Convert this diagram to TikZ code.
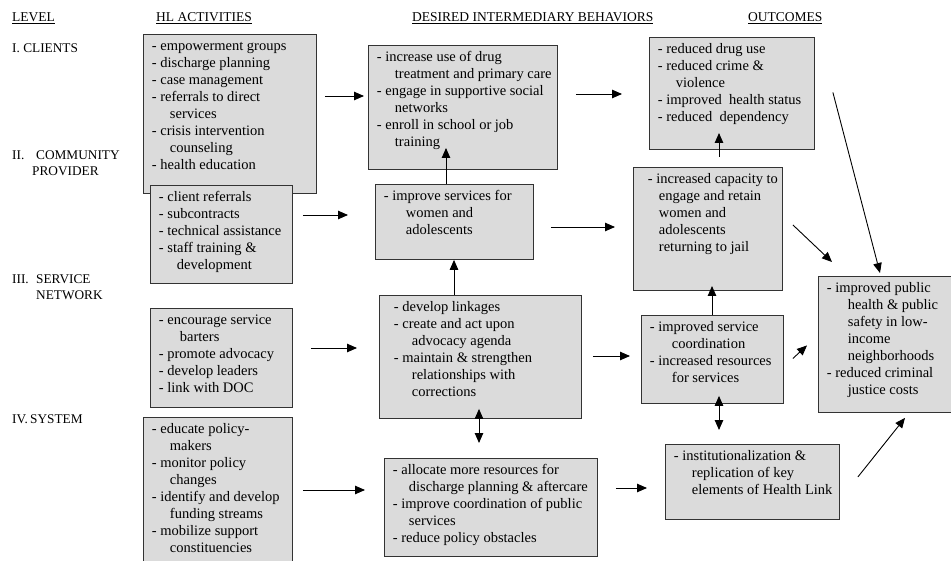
\documentclass[tikz,border=0pt]{standalone}
\usepackage{fontspec}
\setmainfont{Liberation Serif}
\usepackage{tikz}
\usetikzlibrary{arrows.meta,calc}

\newcommand{\hltext}[4][0pt]{\parbox[t][#3][t]{#2}{\hspace*{#1}\begin{tabular}[t]{@{}l@{}}#4\end{tabular}}}
\newcommand{\ind}{\hspace*{18pt}}

\tikzset{
  hlbox/.style={draw=black!80, fill=black!14, line width=0.9pt, anchor=north west,
    inner xsep=8.5pt, inner ysep=4pt, font=\fontsize{14.5}{17}\selectfont},
  head/.style={anchor=base west, inner sep=0pt, font=\fontsize{13.5}{16}\selectfont},
  lvl/.style={anchor=base west, inner sep=0pt, align=left, font=\fontsize{13.3}{16}\selectfont},
  arr/.style={-{Triangle[length=10pt,width=8.5pt]}, line width=0.9pt},
  darr/.style={{Triangle[length=10pt,width=8.5pt]}-{Triangle[length=10pt,width=8.5pt]}, line width=0.9pt}
}

\begin{document}
\begin{tikzpicture}
\begin{scope}[x=1pt, y=-1pt]
\useasboundingbox (0,0) rectangle (951,561);

% column heads
\node[head] (hlevel) at (12,22) {\underline{LEVEL}};
\node[head] (hact) at (156,22) {\underline{HL ACTIVITIES}};
\node[head] (hbeh) at (412,22) {\underline{DESIRED INTERMEDIARY BEHAVIORS}};
\node[head] (hout) at (748,22) {\underline{OUTCOMES}};

% levels
\node[lvl] (lcli) at (12,53) {I. CLIENTS};
\node[lvl] (lcom) at (12,176) {\makebox[24pt][l]{II.}COMMUNITY\\\hspace*{20pt}PROVIDER};
\node[lvl] (lser) at (12,300) {\makebox[24pt][l]{III.}SERVICE\\\hspace*{24pt}NETWORK};
\node[lvl] (lsys) at (12,423) {\makebox[18pt][l]{IV.}SYSTEM};

% HL activities
\node[hlbox] (act1) at (143,34) {\hltext{156pt}{151pt}{- empowerment groups\\ - discharge planning\\ - case management\\ - referrals to direct\\ \ind services\\ - crisis intervention\\ \ind counseling\\ - health education}};
\node[hlbox] (act2) at (150,185) {\hltext{125pt}{90pt}{- client referrals\\ - subcontracts\\ - technical assistance\\ - staff training \&\\ \ind development}};
\node[hlbox] (act3) at (150,308) {\hltext{125pt}{91pt}{- encourage service\\ \hspace*{21pt}barters\\ - promote advocacy\\ - develop leaders\\ - link with DOC}};
\node[hlbox] (act4) at (143,417) {\hltext{132pt}{150pt}{- educate policy-\\ \ind makers\\ - monitor policy\\ \ind changes\\ - identify and develop\\ \ind funding streams\\ - mobilize support\\ \ind constituencies}};

% intermediary behaviors
\node[hlbox] (beh1) at (368,45) {\hltext{172pt}{116pt}{- increase use of drug\\ \ind treatment and primary care\\ - engage in supportive social\\ \ind networks\\ - enroll in school or job\\ \ind training}};
\node[hlbox] (beh2) at (375,184) {\hltext{141pt}{67pt}{- improve services for\\ \hspace*{22pt}women and\\ \hspace*{22pt}adolescents}};
\node[hlbox] (beh3) at (379,295) {\hltext[6pt]{185pt}{115pt}{- develop linkages\\ - create and act upon\\ \ind advocacy agenda\\ - maintain \& strengthen\\ \ind relationships with\\ \ind corrections}};
\node[hlbox] (beh4) at (384,458) {\hltext{196pt}{90pt}{- allocate more resources for\\ \hspace*{16pt}discharge planning \& aftercare\\ - improve coordination of public\\ \hspace*{16pt}services\\ - reduce policy obstacles}};

% outcomes
\node[hlbox] (out1) at (649,37) {\hltext{148pt}{104pt}{- reduced drug use\\ - reduced crime \&\\ \ind violence\\ - improved\ \ health status\\ - reduced\ \ dependency}};
\node[hlbox] (out2) at (633,167) {\hltext[6pt]{132pt}{115pt}{- increased capacity to\\ \hspace*{11pt}engage and retain\\ \hspace*{11pt}women and\\ \hspace*{11pt}adolescents\\ \hspace*{11pt}returning to jail}};
\node[hlbox] (out3) at (641,315) {\hltext{125pt}{80pt}{- improved service\\ \hspace*{22pt}coordination\\ - increased resources\\ \hspace*{22pt}for services}};
\node[hlbox] (out4) at (818,276) {\hltext{123pt}{128pt}{- improved public\\ \hspace*{21pt}health \& public\\ \hspace*{21pt}safety in low-\\ \hspace*{21pt}income\\ \hspace*{21pt}neighborhoods\\ - reduced criminal\\ \hspace*{21pt}justice costs}};
\node[hlbox] (out5) at (665,444) {\hltext{157pt}{67pt}{- institutionalization \&\\ \ind replication of key\\ \ind elements of Health Link}};

% horizontal arrows
\draw[arr, shorten <=8pt, shorten >=4pt] (act1.east |- 0,96) -- (beh1.west |- 0,96);
\draw[arr, shorten <=18pt, shorten >=27pt] (beh1.east |- 0,94) -- (out1.west |- 0,94);
\draw[arr, shorten <=10pt, shorten >=27pt] (act2.east |- 0,215) -- (beh2.west |- 0,215);
\draw[arr, shorten <=17pt, shorten >=18pt] (beh2.east |- 0,227) -- (out2.west |- 0,227);
\draw[arr, shorten <=18pt, shorten >=22pt] (act3.east |- 0,348) -- (beh3.west |- 0,348);
\draw[arr, shorten <=11pt, shorten >=11pt] (beh3.east |- 0,356) -- (out3.west |- 0,356);
\draw[arr, shorten <=10pt, shorten >=19pt] (act4.east |- 0,490) -- (beh4.west |- 0,490);
\draw[arr, shorten <=18pt, shorten >=18pt] (beh4.east |- 0,488) -- (out5.west |- 0,488);

% vertical arrows
\draw[arr] (beh2.north -| 446,0) -- ++(0,-36);
\draw[arr] (beh3.north -| 454,0) -- (beh2.south -| 454,0);
\draw[arr, shorten <=10pt] (out2.north -| 719,0) -- ++(0,-34);
\draw[arr] (out3.north -| 712,0) -- ++(0,-29);
\draw[darr, shorten <=-8pt, shorten >=14pt] (out3.south -| 719,0) -- (out5.north -| 719,0);
\draw[darr, shorten <=-10pt, shorten >=15pt] (beh3.south -| 479,0) -- (beh4.north -| 479,0);

% into the final outcome
\draw[arr] ($(out1.east)+(18,-1)$) -- ($(out4.north west)+(62,-3)$);
\draw[arr] ($(out2.east)+(10,-4)$) -- ($(out4.north west)+(14,-14)$);
\draw[arr] ($(out3.east)+(9,-1)$) -- ($(out4.west)+(-11,1)$);
\draw[arr] ($(out5.east)+(18,-5)$) -- ($(out4.south west)+(87,5)$);

\end{scope}
\end{tikzpicture}
\end{document}
